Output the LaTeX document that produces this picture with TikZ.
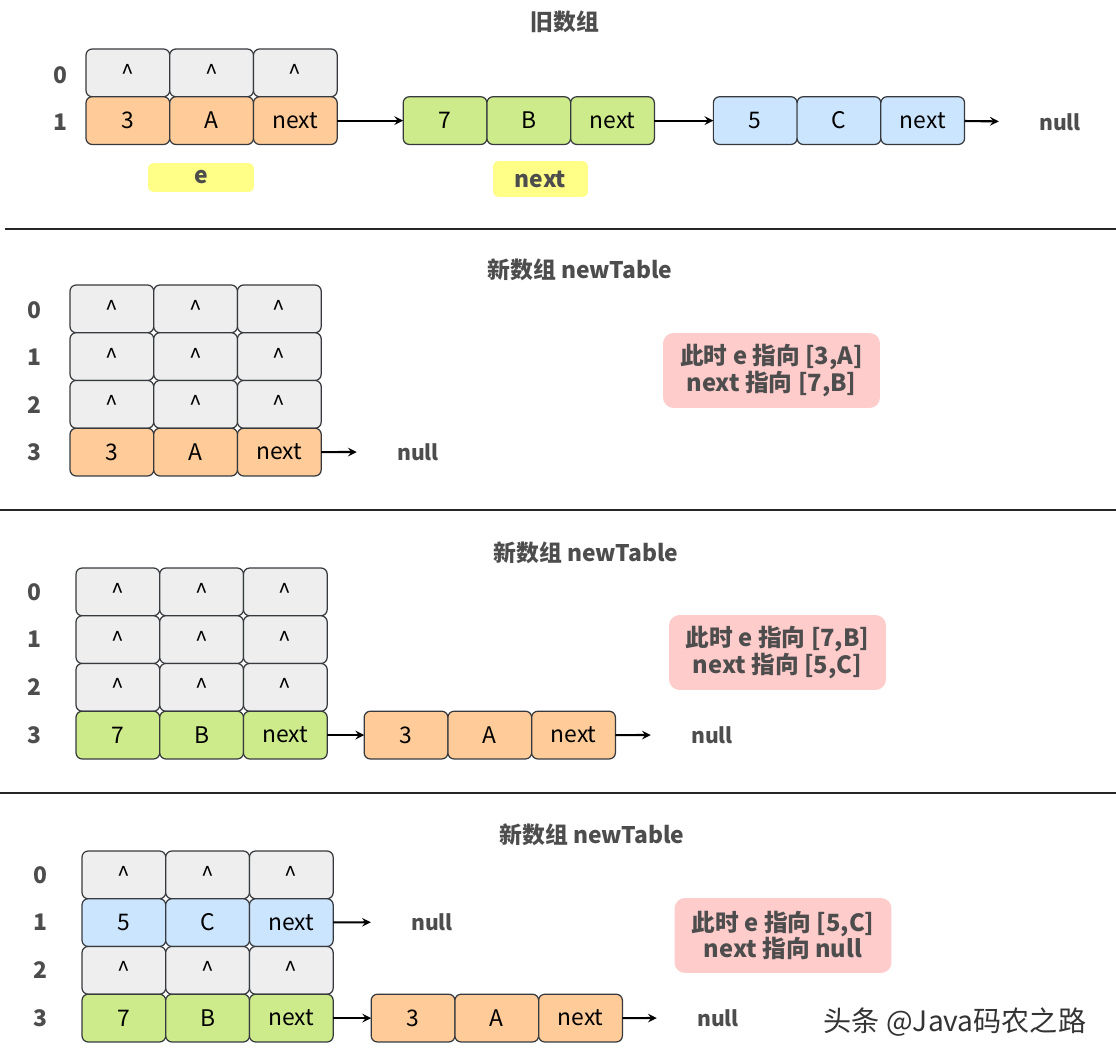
\documentclass[tikz,border=0pt]{standalone}
\usepackage{fontspec}
\setmainfont{Noto Sans CJK SC}
\usepackage{xcolor}
\usepackage{tikz}
\usetikzlibrary{positioning,arrows}
\definecolor{linec}{HTML}{36393D}
\definecolor{textc}{HTML}{4D4D4D}
\definecolor{greyc}{HTML}{EEEEEE}
\definecolor{orangec}{HTML}{FFCC99}
\definecolor{greenc}{HTML}{CDEB8B}
\definecolor{bluec}{HTML}{CCE5FF}
\definecolor{yellowc}{HTML}{FFFF88}
\definecolor{pinkc}{HTML}{FFCCCC}
\begin{document}
\begin{tikzpicture}[x=0.02cm,y=-0.02cm,node distance=0pt,
      every node/.style={align=center},
      cell/.style={draw=linec,line width=0.7pt,rounded corners=3.5pt,minimum width=1.675cm,
        minimum height=0.955cm,inner sep=0pt,outer sep=0pt,font=\fontsize{13}{15}\selectfont},
      ecell/.style={cell,fill=greyc},
      ocell/.style={cell,fill=orangec},
      gcell/.style={cell,fill=greenc},
      bcell/.style={cell,fill=bluec},
      lbl/.style={text=textc,font=\bfseries\fontsize{13}{15}\selectfont},
      nul/.style={lbl,inner sep=0pt,font=\bfseries\fontsize{12}{14}\selectfont},
      tag/.style={lbl,fill=yellowc,rounded corners=3pt,inner sep=0pt},
      memo/.style={lbl,fill=pinkc,rounded corners=6pt,minimum width=4.34cm,minimum height=1.5cm,
        font=\bfseries\fontsize{13.5}{15}\selectfont},
      arr/.style={-stealth,line width=1.2pt},
      ptr/.style={arr,shorten >=0.8cm},
      sep/.style={line width=1.1pt,color=black!85}]
    \useasboundingbox (0,0) rectangle (1116,1064);
    \node[lbl] (t1) at (565,22) {旧数组};
    \node[lbl] (r10) at (60,75) {0};
    \node[lbl] (r11) at (60,122) {1};
    \node[ecell,anchor=north west] (a0a) at (86,49) {\textasciicircum};
    \node[ecell,right=of a0a] (a0b) {\textasciicircum};
    \node[ecell,right=of a0b] (a0c) {\textasciicircum};
    \node[ocell,below=of a0a] (a1a) {3};
    \node[ocell,right=of a1a] (a1b) {A};
    \node[ocell,right=of a1b] (a1c) {next};
    \node[gcell,right=1.32cm of a1c] (a1d) {7};
    \node[gcell,right=of a1d] (a1e) {B};
    \node[gcell,right=of a1e] (a1f) {next};
    \node[bcell,right=1.18cm of a1f] (a1g) {5};
    \node[bcell,right=of a1g] (a1h) {C};
    \node[bcell,right=of a1h] (a1i) {next};
    \node[nul] (n1) at (1060,122) {null};
    \draw[arr] (a1c) -- (a1d);
    \draw[arr] (a1f) -- (a1g);
    \draw[ptr] (a1i) -- (n1);
    \node[tag,minimum width=2.12cm,minimum height=0.58cm] (e1) at (201,177.5) {e};
    \node[tag,minimum width=1.9cm,minimum height=0.72cm] (x1) at (540.5,179) {next};
    \draw[sep] (5,229) -- (1116,229);
    \node[lbl] (t2) at (580,270) {新数组 newTable};
    \node[lbl] (r20) at (34,310) {0};
    \node[lbl] (r21) at (34,357) {1};
    \node[lbl] (r22) at (34,405) {2};
    \node[lbl] (r23) at (34,452) {3};
    \node[ecell,anchor=north west] (b0a) at (70,285) {\textasciicircum};
    \node[ecell,right=of b0a] (b0b) {\textasciicircum};
    \node[ecell,right=of b0b] (b0c) {\textasciicircum};
    \node[ecell,below=of b0a] (b1a) {\textasciicircum};
    \node[ecell,right=of b1a] (b1b) {\textasciicircum};
    \node[ecell,right=of b1b] (b1c) {\textasciicircum};
    \node[ecell,below=of b1a] (b2a) {\textasciicircum};
    \node[ecell,right=of b2a] (b2b) {\textasciicircum};
    \node[ecell,right=of b2b] (b2c) {\textasciicircum};
    \node[ocell,below=of b2a] (b3a) {3};
    \node[ocell,right=of b3a] (b3b) {A};
    \node[ocell,right=of b3b] (b3c) {next};
    \node[nul] (n2) at (418,452) {null};
    \draw[ptr] (b3c) -- (n2);
    \node[memo] (m2) at (771.5,370.5) {此时 e 指向 [3,A]\\next 指向 [7,B]};
    \draw[sep] (0,510) -- (1116,510);
    \node[lbl] (t3) at (586,553) {新数组 newTable};
    \node[lbl] (r30) at (34,592) {0};
    \node[lbl] (r31) at (34,639) {1};
    \node[lbl] (r32) at (34,687) {2};
    \node[lbl] (r33) at (34,735) {3};
    \node[ecell,anchor=north west] (c0a) at (76,568) {\textasciicircum};
    \node[ecell,right=of c0a] (c0b) {\textasciicircum};
    \node[ecell,right=of c0b] (c0c) {\textasciicircum};
    \node[ecell,below=of c0a] (c1a) {\textasciicircum};
    \node[ecell,right=of c1a] (c1b) {\textasciicircum};
    \node[ecell,right=of c1b] (c1c) {\textasciicircum};
    \node[ecell,below=of c1a] (c2a) {\textasciicircum};
    \node[ecell,right=of c2a] (c2b) {\textasciicircum};
    \node[ecell,right=of c2b] (c2c) {\textasciicircum};
    \node[gcell,below=of c2a] (c3a) {7};
    \node[gcell,right=of c3a] (c3b) {B};
    \node[gcell,right=of c3b] (c3c) {next};
    \node[ocell,right=0.74cm of c3c] (c3d) {3};
    \node[ocell,right=of c3d] (c3e) {A};
    \node[ocell,right=of c3e] (c3f) {next};
    \node[nul] (n3) at (712,735) {null};
    \draw[arr] (c3c) -- (c3d);
    \draw[ptr] (c3f) -- (n3);
    \node[memo] (m3) at (777.5,652.5) {此时 e 指向 [7,B]\\next 指向 [5,C]};
    \draw[sep] (0,793) -- (1116,793);
    \node[lbl] (t4) at (592,835) {新数组 newTable};
    \node[lbl] (r40) at (40,875) {0};
    \node[lbl] (r41) at (40,922) {1};
    \node[lbl] (r42) at (40,970) {2};
    \node[lbl] (r43) at (40,1018) {3};
    \node[ecell,anchor=north west] (d0a) at (82,851) {\textasciicircum};
    \node[ecell,right=of d0a] (d0b) {\textasciicircum};
    \node[ecell,right=of d0b] (d0c) {\textasciicircum};
    \node[bcell,below=of d0a] (d1a) {5};
    \node[bcell,right=of d1a] (d1b) {C};
    \node[bcell,right=of d1b] (d1c) {next};
    \node[ecell,below=of d1a] (d2a) {\textasciicircum};
    \node[ecell,right=of d2a] (d2b) {\textasciicircum};
    \node[ecell,right=of d2b] (d2c) {\textasciicircum};
    \node[gcell,below=of d2a] (d3a) {7};
    \node[gcell,right=of d3a] (d3b) {B};
    \node[gcell,right=of d3b] (d3c) {next};
    \node[ocell,right=0.76cm of d3c] (d3d) {3};
    \node[ocell,right=of d3d] (d3e) {A};
    \node[ocell,right=of d3e] (d3f) {next};
    \node[nul] (n41) at (432,922) {null};
    \node[nul] (n43) at (718,1018) {null};
    \draw[ptr] (d1c) -- (n41);
    \draw[arr] (d3c) -- (d3d);
    \draw[ptr] (d3f) -- (n43);
    \node[memo] (m4) at (783,935.5) {此时 e 指向 [5,C]\\next 指向 null};
    \node[text=black!80,font=\fontsize{16}{18}\selectfont] (wm) at (955,1022) {头条 @Java码农之路};
  \end{tikzpicture}
\end{document}
